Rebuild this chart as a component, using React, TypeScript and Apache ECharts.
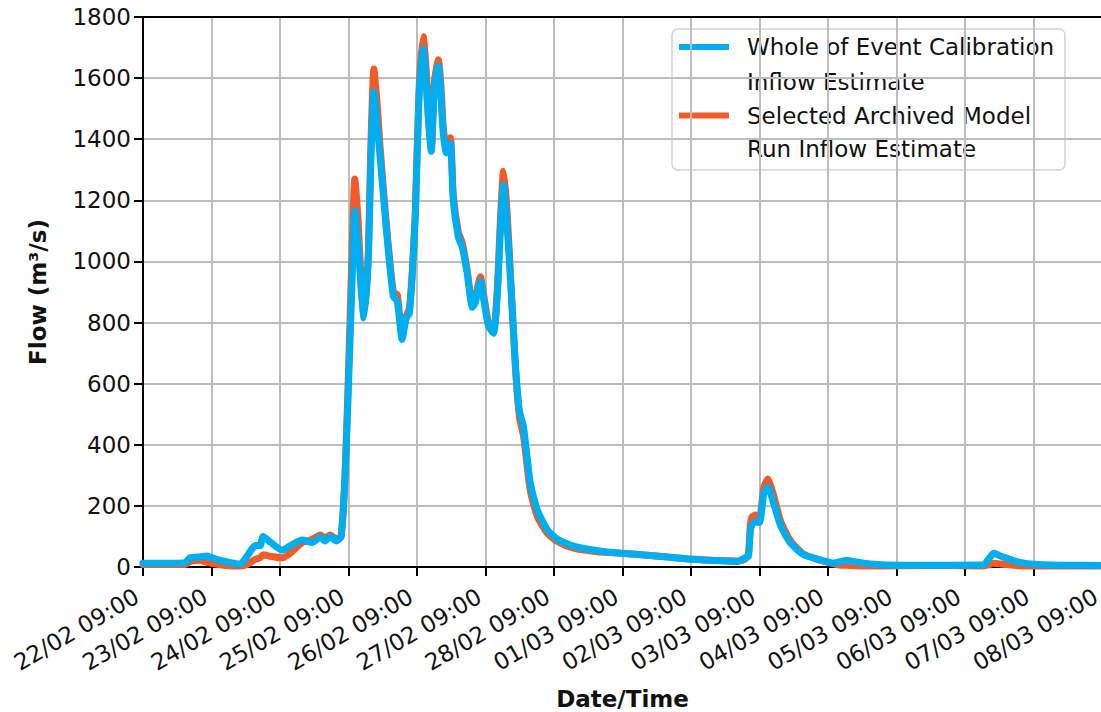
import React, { useEffect, useRef } from "react";
import * as echarts from "echarts";

// hours since 22/02 09:00
const HOURS = [
  0, 7.7, 14.7, 16.5, 20, 22.4, 24.2, 28.8, 34, 36.8, 39.3, 41, 42.1, 44.5, 48.8, 51.6, 55.8, 59.3, 62.1, 63.8,
  65.6, 67.7, 69.4, 70.8, 72.2, 73.3, 74.2, 75.4, 76.5, 77.4, 78.9, 79.9, 80.9, 82, 83.1, 85.2, 87.7, 89.1, 90.8,
  92.2, 93.3, 94.3, 95.4, 96.8, 98.2, 99.2, 100, 101, 102.1, 103.5, 104.5, 105.2, 106.3, 107.7, 108.7, 110.5,
  111.9, 113.6, 115.4, 116.4, 118.2, 119.2, 121, 122.8, 124.2, 125.2, 126.3, 127.3, 128.4, 130.5, 131.9, 133.3,
  135.7, 138.2, 141.7, 145.2, 150.8, 159.2, 167.3, 177.8, 192.9, 208.3, 210.8, 212.1, 212.8, 213.5, 214.6, 216,
  217.5, 218.9, 220.6, 223.4, 226.9, 231.5, 237.4, 242, 244.5, 246.6, 249, 255, 265.5, 283, 294.6, 296.4, 298.1,
  300.6, 306.5, 312.1, 321.6, 336,
];

const CALIBRATION = [
  12, 12, 14, 30, 33, 36, 30, 18, 9, 40, 70, 70, 100, 82, 55, 70, 88, 80, 97, 85,
  100, 85, 100, 300, 650, 950, 1165, 1050, 900, 815, 1000, 1350, 1555, 1450, 1340, 1110, 885, 870, 745,
  815, 830, 950, 1150, 1560, 1695, 1580, 1460, 1360, 1570, 1640, 1520, 1420, 1355, 1385, 1200, 1080,
  1045, 960, 850, 865, 935, 885, 790, 765, 900, 1100, 1250, 1150, 1000, 660, 510, 460,
  275, 185, 121, 91, 68, 53, 45, 38, 25, 18, 30, 35, 120, 140, 148, 146,
  240, 262, 220, 135, 78, 40, 23, 13, 18, 22, 18, 10, 6, 6, 7, 28, 45,
  35, 17, 9, 6, 5,
];

const ARCHIVED = [
  8, 8, 8, 18, 22, 15, 12, 5, 3, 10, 25, 30, 40, 35, 30, 45, 80, 90, 105, 95,
  105, 92, 100, 300, 700, 1050, 1270, 1130, 920, 825, 1020, 1400, 1630, 1520, 1370, 1130, 900, 890, 760,
  820, 845, 960, 1160, 1580, 1735, 1630, 1480, 1370, 1590, 1660, 1560, 1440, 1370, 1405, 1220, 1095,
  1060, 970, 860, 880, 950, 900, 800, 770, 920, 1130, 1295, 1200, 1020, 650, 490, 430,
  250, 165, 110, 84, 62, 50, 45, 38, 25, 20, 25, 40, 140, 165, 170, 160,
  260, 288, 245, 150, 85, 42, 22, 10, 6, 6, 4, 3, 4, 5, 3, 8, 12,
  10, 4, 3, 3, 3,
];

const X_TICK_LABELS = [
  "22/02 09:00", "23/02 09:00", "24/02 09:00", "25/02 09:00", "26/02 09:00", "27/02 09:00", "28/02 09:00",
  "01/03 09:00", "02/03 09:00", "03/03 09:00", "04/03 09:00", "05/03 09:00", "06/03 09:00", "07/03 09:00",
  "08/03 09:00",
];

const SERIES_NAMES = ["Whole of Event Calibration Inflow Estimate", "Selected Archived Model Run Inflow Estimate"];
const LEGEND_LINES = [
  ["Whole of Event Calibration", "Inflow Estimate"],
  ["Selected Archived Model", "Run Inflow Estimate"],
];

const BLUE = "#00AEEF";
const ORANGE = "#F15A29";
const FONT = '"DejaVu Sans", sans-serif';

export default function App() {
  const ref = useRef<HTMLDivElement>(null);
  useEffect(() => {
    if (!ref.current) return;
    const chart = echarts.init(ref.current, null, { renderer: "svg" });
    const calib = HOURS.map((h, i) => [h, CALIBRATION[i]]);
    const arch = HOURS.map((h, i) => [h, ARCHIVED[i]]);
    const textStyle = { fontFamily: FONT, fontSize: 23, color: "#111" };
    chart.setOption({
      animation: false,
      textStyle: { fontFamily: FONT },
      grid: { left: 143, right: -1, top: 17, bottom: 145, outerBoundsMode: "none", containLabel: false },
      xAxis: [
        {
          type: "value",
          min: 0,
          max: 336,
          interval: 24,
          name: "Date/Time",
          nameLocation: "middle",
          nameGap: 120,
          nameTextStyle: { ...textStyle, fontWeight: "bold" },
          axisLine: { show: true, lineStyle: { color: "#000", width: 2 } },
          axisTick: { show: true, length: 9, lineStyle: { color: "#000", width: 2 } },
          axisLabel: {
            ...textStyle,
            rotate: 30,
            margin: 24,
            padding: [0, 7, 0, 0],
            showMaxLabel: true,
            hideOverlap: false,
            formatter: (v: number) => X_TICK_LABELS[Math.round(v / 24)] ?? "",
          },
          splitLine: { show: true, lineStyle: { color: "#bdbdbd", width: 2 } },
        },
        {
          type: "value",
          position: "top",
          min: 0,
          max: 336,
          interval: 24,
          axisLine: { show: true, onZero: false, lineStyle: { color: "#000", width: 2 } },
          axisTick: { show: false },
          axisLabel: { show: false },
          splitLine: { show: false },
        },
      ],
      yAxis: {
        type: "value",
        min: 0,
        max: 1800,
        interval: 200,
        name: "Flow (m³/s)",
        nameLocation: "middle",
        nameGap: 94,
        nameTextStyle: { ...textStyle, fontWeight: "bold" },
        axisLine: { show: true, lineStyle: { color: "#000", width: 2 } },
        axisTick: { show: true, length: 9, lineStyle: { color: "#000", width: 2 } },
        axisLabel: { ...textStyle, margin: 12, formatter: (v: number) => String(v) },
        splitLine: { show: true, lineStyle: { color: "#bdbdbd", width: 2 } },
      },
      series: [
        {
          name: SERIES_NAMES[1],
          type: "line",
          data: arch,
          showSymbol: false,
          symbol: "none",
          smooth: 0.2,
          lineStyle: { color: ORANGE, width: 7, cap: "round", join: "round" },
          z: 2,
        },
        {
          name: SERIES_NAMES[0],
          type: "line",
          data: calib,
          showSymbol: false,
          symbol: "none",
          smooth: 0.2,
          lineStyle: { color: BLUE, width: 7, cap: "round", join: "round" },
          z: 3,
        },
      ],
      graphic: [
        {
          type: "group",
          z: 100,
          children: [
            {
              type: "rect",
              shape: { x: 672, y: 29, width: 393, height: 141, r: 6 },
              style: { fill: "rgba(255,255,255,0.8)", stroke: "#d4d4d4", lineWidth: 1.5 },
            },
            {
              type: "line",
              shape: { x1: 679, y1: 47, x2: 729, y2: 47 },
              style: { stroke: BLUE, lineWidth: 6 },
            },
            {
              type: "line",
              shape: { x1: 679, y1: 115.5, x2: 729, y2: 115.5 },
              style: { stroke: ORANGE, lineWidth: 6 },
            },
            ...[
              [LEGEND_LINES[0][0], 47],
              [LEGEND_LINES[0][1], 81.5],
              [LEGEND_LINES[1][0], 115.5],
              [LEGEND_LINES[1][1], 149],
            ].map(([t, y]) => ({
              type: "text",
              style: {
                text: t as string,
                x: 747,
                y: y as number,
                fontFamily: FONT,
                fontSize: 23,
                fill: "#111",
                verticalAlign: "middle",
                align: "left",
              },
            })),
          ],
        },
      ],
    });
    return () => chart.dispose();
  }, []);
  return (
    <div
      ref={ref}
      style={{ position: "fixed", left: 0, top: 0, width: 1101, height: 712, background: "#fff" }}
    />
  );
}
